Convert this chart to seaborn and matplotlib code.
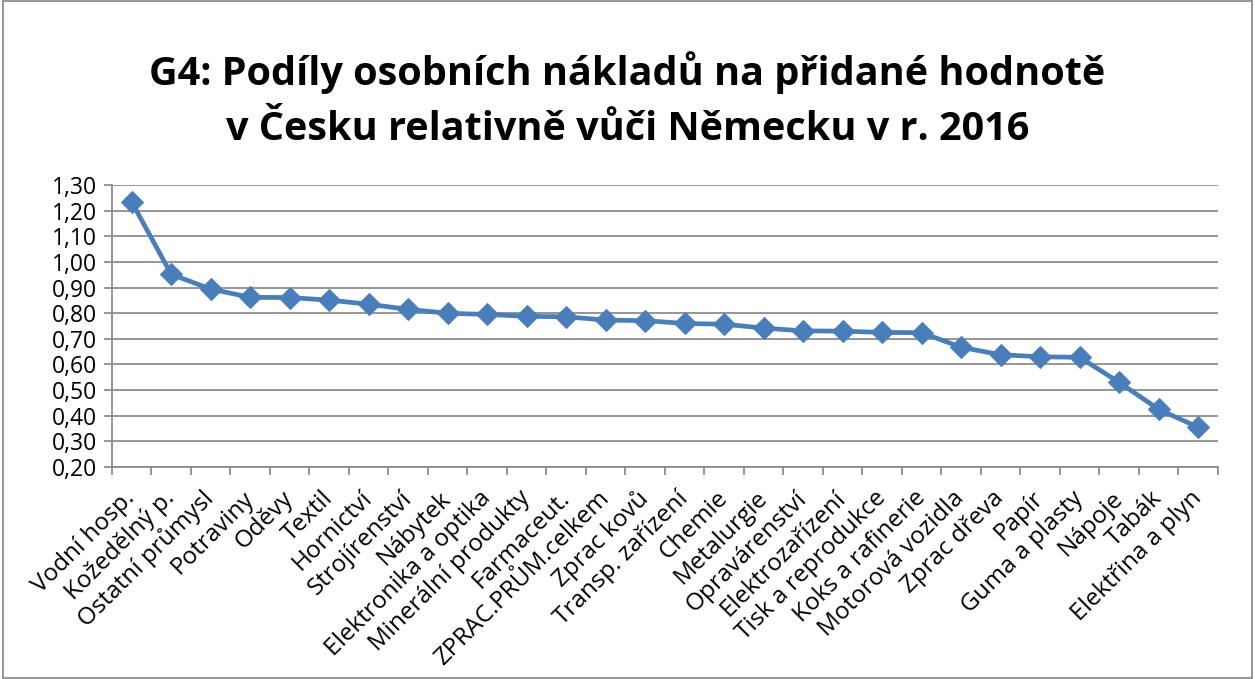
import matplotlib
matplotlib.use("Agg")
import matplotlib.pyplot as plt
import seaborn as sns
import numpy as np
import pandas as pd
from matplotlib.patches import Rectangle
from matplotlib.ticker import FixedLocator, FuncFormatter
from matplotlib.transforms import ScaledTranslation

categories = ["Vodní hosp.", "Kožedělný p.", "Ostatní průmysl", "Potraviny", "Oděvy",
              "Textil", "Hornictví", "Strojírenství", "Nábytek", "Elektronika a optika",
              "Minerální produkty", "Farmaceut.", "ZPRAC.PRŮM.celkem", "Zprac kovů",
              "Transp. zařízení", "Chemie", "Metalurgie", "Opravárenství", "Elektrozařízení",
              "Tisk a reprodukce", "Koks a rafinerie", "Motorová vozidla", "Zprac dřeva",
              "Papír", "Guma a plasty", "Nápoje", "Tabák", "Elektřina a plyn"]
values = [1.234, 0.952, 0.894, 0.862, 0.861, 0.851, 0.835, 0.815, 0.800, 0.795,
          0.788, 0.786, 0.773, 0.771, 0.760, 0.757, 0.742, 0.731, 0.730, 0.725,
          0.724, 0.667, 0.638, 0.630, 0.628, 0.530, 0.425, 0.355]
y_ticks = [0.20, 0.30, 0.40, 0.50, 0.60, 0.70, 0.80, 0.90, 1.00, 1.10, 1.20, 1.30]
title_lines = ["G4: Podíly osobních nákladů na přidané hodnotě",
               "v Česku relativně vůči Německu v r. 2016"]

sns.set_theme(style="white")
plt.rcParams['font.family'] = ['Open Sans', 'DejaVu Sans']

df = pd.DataFrame({"pos": np.arange(len(categories)), "val": values})

fig = plt.figure(figsize=(12.55, 6.79), dpi=100)
ax = fig.add_axes([0.0892, 0.3122, 0.8813, 0.4153])

line_color = "#4A7EBB"
sns.lineplot(data=df, x="pos", y="val", ax=ax, color=line_color, linewidth=3.4,
             marker="D", markersize=11, markeredgecolor=line_color, markerfacecolor=line_color)

ax.set_xlim(-0.5, len(categories) - 0.5)
ax.set_ylim(0.20, 1.30)
ax.set_yticks(y_ticks)
ax.yaxis.set_major_formatter(FuncFormatter(lambda v, p: f"{v:.2f}".replace(".", ",")))
ax.yaxis.grid(True, color="#8c8c8c", linewidth=1.3)
ax.set_axisbelow(True)
ax.set_xlabel("")
ax.set_ylabel("")

ax.set_xticks(np.arange(len(categories)))
ax.set_xticklabels(categories, rotation=45, ha="right", va="center", rotation_mode="anchor",
                   fontsize=17.5, color="black")
offset = ScaledTranslation(24 / 100, 0, fig.dpi_scale_trans)
for lbl in ax.get_xticklabels():
    lbl.set_transform(lbl.get_transform() + offset)
ax.xaxis.set_minor_locator(FixedLocator(np.arange(-0.5, len(categories), 1.0)))
ax.tick_params(axis="x", which="major", length=0, pad=20)
ax.tick_params(axis="x", which="minor", length=6, color="#8c8c8c", width=1.3, direction="out", bottom=True)
ax.tick_params(axis="y", length=6, color="#8c8c8c", width=1.3, direction="out", labelsize=16.5, left=True, pad=5)
for lbl in ax.get_yticklabels():
    lbl.set_color("black")

for s in ["top", "right"]:
    ax.spines[s].set_visible(False)
for s in ["left", "bottom"]:
    ax.spines[s].set_color("#8c8c8c")
    ax.spines[s].set_linewidth(1.3)

fig.text(0.5, 1 - 73 / 679, title_lines[0], ha="center", va="center", fontsize=28.5,
         fontweight="bold", color="black")
fig.text(0.5, 1 - 130 / 679, title_lines[1], ha="center", va="center", fontsize=28.5,
         fontweight="bold", color="black")

fig.patches.append(Rectangle((0.002, 0.002), 0.996, 0.996, transform=fig.transFigure,
                             fill=False, edgecolor="#8c8c8c", linewidth=1.3))

fig.savefig("out.png", dpi=100)
